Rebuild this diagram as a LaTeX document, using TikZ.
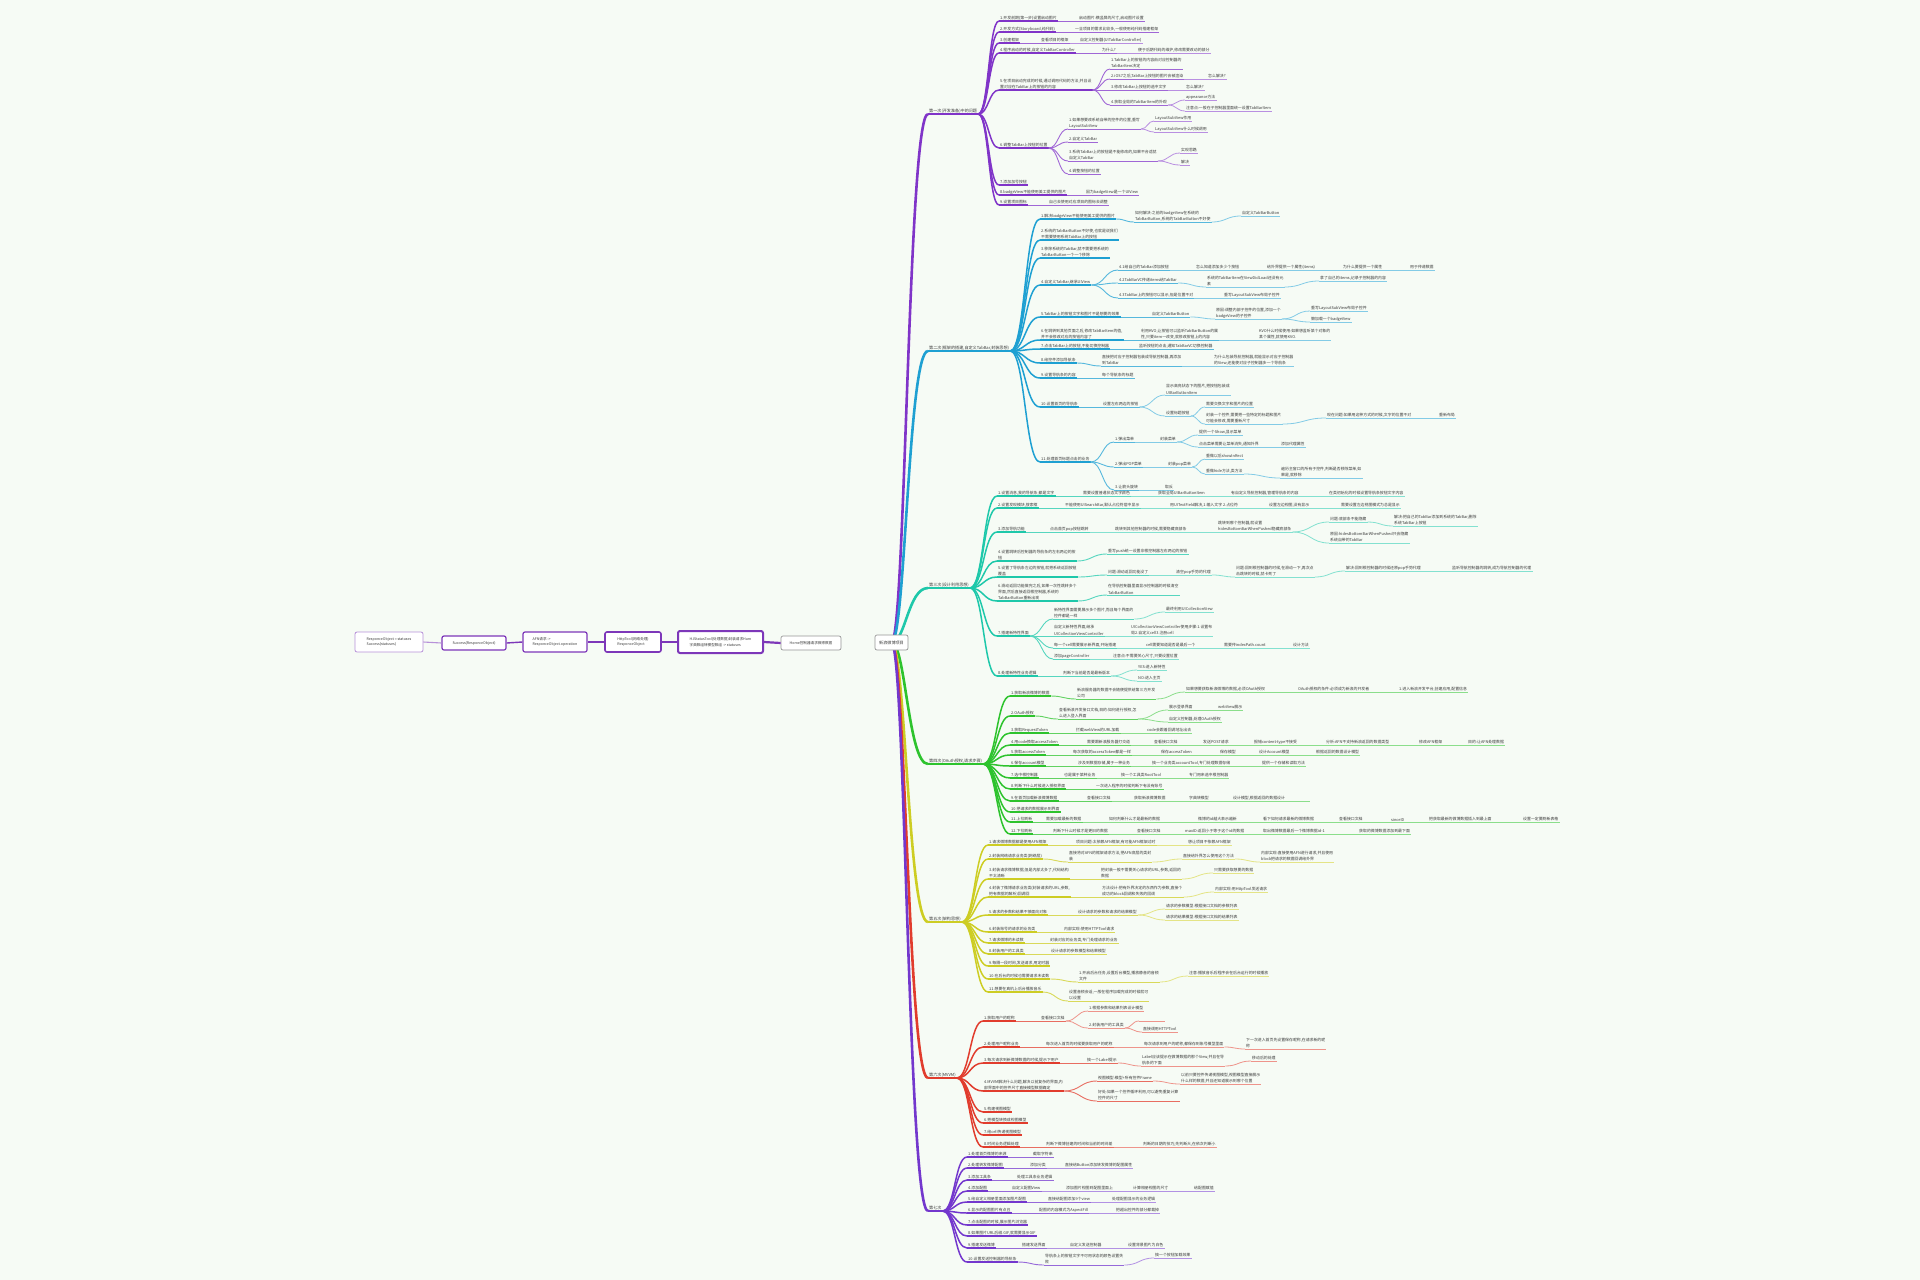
\documentclass[tikz,border=0pt]{standalone}
\usepackage{fontspec}
\setmainfont{Noto Sans CJK SC}
\usetikzlibrary{calc}
\definecolor{bg}{RGB}{246,251,245}
\definecolor{tc}{RGB}{60,60,60}
\definecolor{cA}{RGB}{128,52,200}
\definecolor{cB}{RGB}{30,160,210}
\definecolor{cC}{RGB}{30,200,170}
\definecolor{cD}{RGB}{45,195,45}
\definecolor{cE}{RGB}{205,205,35}
\definecolor{cF}{RGB}{225,60,45}
\definecolor{cG}{RGB}{115,55,205}
\definecolor{cP}{RGB}{125,55,185}
\definecolor{cGray}{RGB}{150,150,150}
\def\bc{cA}
\tikzset{
 tx/.style={font=\fontsize{3.9}{6.2}\selectfont, text=tc, inner xsep=1pt, inner ysep=0.6pt, align=left, anchor=south west},
 lone/.style={tx, font=\fontsize{4.1}{6.2}\selectfont},
 ulA/.style={draw=\bc, line width=2.2pt},
 cnA/.style={draw=\bc, line width=2.6pt},
 ulB/.style={draw=\bc, line width=1.4pt},
 cnB/.style={draw=\bc, line width=1.5pt},
 ulC/.style={draw=\bc!75, line width=0.9pt},
 cnC/.style={draw=\bc!75, line width=0.9pt},
 ulD/.style={draw=\bc!55, line width=0.8pt},
 cnD/.style={draw=\bc!55, line width=0.8pt},
 box/.style={draw=cP, rounded corners=2pt, fill=white, font=\fontsize{3.6}{5.4}\selectfont, text=tc, align=left, inner xsep=3pt, inner ysep=1.5pt},
 chl/.style={draw=cP, line width=1.8pt},
}
% level, name, parent, x, y, text
\newcommand\tpc[6]{%
 \node[tx] (#2) at (#4,#5) {#6};
 \draw[ul#1] (#2.south west) -- (#2.south east);
 \draw[cn#1] let \p1=(#3.south east),\p2=(#2.south west),\n1={0.5*(\x2-\x1)} in (\p1) .. controls +(\n1,0) and +(-\n1,0) .. (\p2);
}
% name, x, y, text
\newcommand\lonenode[4]{%
 \node[lone] (#1) at (#2,#3) {#4};
 \draw[ulA] (#1.south west) -- (#1.south east);
 \draw[cnA] (rc) .. controls +(14,0) and +(-20,0) .. (#1.south west);
}
\begin{document}
\begin{tikzpicture}[x=1pt,y=-1pt]
\fill[bg] (0,0) rectangle (1920,1280);
\path[use as bounding box] (0,0) rectangle (1920,1280);
\coordinate (rc) at (891.5,642.5);

% ---------- left chain ----------
\node[box, draw=cGray, line width=0.7pt, minimum width=60pt, minimum height=14pt] (B6) at (811,643) {Home控制器请求微博数据};
\node[box, line width=2pt, minimum width=85pt, minimum height=22pt] (B5) at (720.5,642) {HJStatusTool(处理数据)封装请求Hum\\字典数组转模型数组 -> statuses};
\node[box, line width=1.6pt, minimum width=56pt, minimum height=20pt] (B4) at (633,642) {HttpTool(网络处理)\\ResponceObject};
\node[box, line width=1.2pt, minimum width=64pt, minimum height=20pt] (B3) at (555,642) {AFN请求 ->\\ResponceObject.operation};
\node[box, line width=1.2pt, minimum width=64pt, minimum height=14pt] (B2) at (474,643) {Success(ResponceObject)};
\node[box, draw=cP!55, line width=0.8pt, minimum width=68pt, minimum height=20pt] (B1) at (389,642) {ResponceObject = statuses\\Success(statuses)};
\draw[chl, line width=2.2pt] (B6.west) -- (B5.east);
\draw[chl, line width=2pt] (B5.west) -- (B4.east);
\draw[chl, line width=1.7pt] (B4.west) -- (B3.east);
\draw[chl, line width=1.4pt] (B3.west) -- (B2.east);
\draw[chl, draw=cP!55, line width=1.1pt] (B2.west) -- (B1.east);

% ---------- Section 1 ----------
\def\bc{cA}
\lonenode{A}{928}{114}{第一次(开发准备)中的问题}
\tpc{B}{a1}{A}{999}{21}{1.开发前期(第一步)设置启动图片}
\tpc{C}{a1a}{a1}{1078}{21}{启动图片:横竖屏的尺寸,启动图片设置}
\tpc{B}{a2}{A}{999}{32}{2.开发方式(Storyboard,纯代码)}
\tpc{C}{a2a}{a2}{1074}{32}{一旦项目的需求比较多,一般使用纯代码搭建框架}
\tpc{B}{a3}{A}{999}{43}{3.创建框架}
\tpc{C}{a3a}{a3}{1040}{43}{查看项目的框架}
\tpc{D}{a3b}{a3a}{1079}{43}{自定义控制器(UITabBarController)}
\tpc{B}{a4}{A}{999}{53}{4.程序启动的时候,自定义TabBarController}
\tpc{C}{a4a}{a4}{1101}{53}{为什么?}
\tpc{D}{a4b}{a4a}{1137}{53}{便于后期代码的维护,修改需要改动的部分}
\tpc{B}{a5}{A}{999}{90}{5.在项目启动完成的时候,通过调用代码的方法,并且设\\置对应在TabBar上的按钮的内容}
\tpc{C}{a5a}{a5}{1110}{69}{1.TabBar上的按钮的内容由对应控制器的\\TabBarItem决定}
\tpc{C}{a5b}{a5}{1110}{79}{2.iOS7之后,TabBar上按钮的图片会被渲染}
\tpc{D}{a5b1}{a5b}{1207}{79}{怎么解决?}
\tpc{C}{a5c}{a5}{1110}{90}{3.修改TabBar上按钮的选中文字}
\tpc{D}{a5c1}{a5c}{1185}{90}{怎么解决?}
\tpc{C}{a5d}{a5}{1110}{105}{4.获取全局的TabBarItem的外观}
\tpc{D}{a5d1}{a5d}{1185}{100}{appearance方法}
\tpc{D}{a5d2}{a5d}{1185}{111}{注意点:一般在子控制器里面统一设置TabBarItem}
\tpc{B}{a6}{A}{999}{148}{6.调整TabBar上按钮的位置}
\tpc{C}{a6a}{a6}{1068}{129}{1.如果想要改系统自带的控件的位置,重写\\LayoutSubView}
\tpc{D}{a6a1}{a6a}{1154}{121}{LayoutSubView作用}
\tpc{D}{a6a2}{a6a}{1154}{132}{LayoutSubView什么时候调用}
\tpc{C}{a6b}{a6}{1068}{142}{2.自定义TabBar}
\tpc{C}{a6c}{a6}{1068}{161}{3.系统TabBar上的按钮是不能修改的,如果不合适就\\自定义TabBar}
\tpc{D}{a6c1}{a6c}{1180}{153}{实现思路}
\tpc{D}{a6c2}{a6c}{1180}{165}{解决}
\tpc{C}{a6d}{a6}{1068}{174}{4.调整按钮的位置}
\tpc{B}{a7}{A}{999}{185}{7.添加加号按钮}
\tpc{B}{a8}{A}{999}{195}{8.badgeView不能使用美工提供的图片}
\tpc{C}{a8a}{a8}{1085}{195}{因为badgeView是一个UIView}
\tpc{B}{a9}{A}{999}{205}{9.设置项目图标}
\tpc{C}{a9a}{a9}{1048}{205}{自己去使用对应项目的图标去调整}

% ---------- Section 2 ----------
\def\bc{cB}
\lonenode{B}{928}{351}{第二次(框架的搭建,自定义TabBar,封装思想)}
\tpc{B}{b1}{B}{1040}{219}{1.解决badgeView不能使用美工提供的图片}
\tpc{C}{b1a}{b1}{1134}{222}{如何解决:之前的badgeView在系统的\\TabBarButton,系统的TabBarButton不好使}
\tpc{D}{b1b}{b1a}{1241}{216}{自定义TabBarButton}
\tpc{B}{b2}{B}{1040}{240}{2.系统的TabBarButton不好使,也就是说我们\\不需要使用系统TabBar上的按钮}
\tpc{B}{b3}{B}{1040}{258}{3.移除系统的TabBar,就不需要把系统的\\TabBarButton一个一个移除}
\tpc{B}{b4}{B}{1040}{285}{4.自定义TabBar,继承UIView}
\tpc{C}{b4a}{b4}{1118}{270}{4.1给自己的TabBar添加按钮}
\tpc{D}{b4a1}{b4a}{1195}{270}{怎么知道添加多少个按钮}
\tpc{D}{b4a2}{b4a1}{1266}{270}{给外界提供一个属性(items)}
\tpc{D}{b4a3}{b4a2}{1342}{270}{为什么要提供一个属性}
\tpc{D}{b4a4}{b4a3}{1409}{270}{用于传递数据}
\tpc{C}{b4b}{b4}{1118}{283}{4.2TabBarVC传递items给TabBar}
\tpc{D}{b4b1}{b4b}{1206}{287}{系统的TabBarItem在ViewDidLoad还没有元\\素}
\tpc{D}{b4b2}{b4b1}{1319}{281}{拿了自己的items,记录子控制器的内容}
\tpc{C}{b4c}{b4}{1118}{298}{4.3TabBar上的按钮可以显示,但是位置不对}
\tpc{D}{b4c1}{b4c}{1223}{298}{重写LayoutSubView布局子控件}
\tpc{B}{b5}{B}{1040}{317}{5.TabBar上的按钮文字和图片不是想要的效果}
\tpc{C}{b5a}{b5}{1151}{317}{自定义TabBarButton}
\tpc{D}{b5b}{b5a}{1215}{319}{原因:调整内部子控件的位置,添加一个\\badgeView的子控件}
\tpc{D}{b5c}{b5b}{1310}{311}{重写LayoutSubView布局子控件}
\tpc{D}{b5d}{b5b}{1310}{322}{懒加载一个badgeView}
\tpc{B}{b6}{B}{1040}{340}{6.在跳转到其他页面之后,修改TabBarItem的值,\\并不会修改对应的按钮内容了}
\tpc{C}{b6a}{b6}{1140}{340}{利用KVO,让按钮可以监听TabBarButton的属\\性,只要item一改变,就修改按钮上的内容}
\tpc{D}{b6b}{b6a}{1258}{340}{KVO什么时候使用:如果想监听某个对象的\\某个属性,就使用KVO.}
\tpc{B}{b7}{B}{1040}{349}{7.点击TabBar上的按钮,不能切换控制器}
\tpc{C}{b7a}{b7}{1138}{349}{监听按钮的点击,通知TabBarVC切换控制器}
\tpc{B}{b8}{B}{1040}{363}{8.给控件添加导航条}
\tpc{C}{b8a}{b8}{1101}{366}{直接把对应子控制器包装成导航控制器,再添加\\到TabBar}
\tpc{D}{b8b}{b8a}{1213}{366}{为什么包装导航控制器,就能显示对应子控制器\\的View,还能使对应子控制器多一个导航条}
\tpc{B}{b9}{B}{1040}{378}{9.设置导航条的内容}
\tpc{C}{b9a}{b9}{1101}{378}{每个导航条的标题}
\tpc{B}{b10}{B}{1040}{407}{10.设置首页的导航条}
\tpc{C}{b10a}{b10}{1102}{407}{设置左右两边的按钮}
\tpc{D}{b10b}{b10a}{1165}{395}{显示高亮状态下的图片,把按钮包装成\\UIBarButtonItem}
\tpc{D}{b10c}{b10a}{1165}{416}{设置标题按钮}
\tpc{D}{b10d}{b10c}{1205}{407}{需要交换文字和图片的位置}
\tpc{D}{b10e}{b10c}{1205}{424}{封装一个控件,需要把一些特定的标题和图片\\可能会修改,需要重新尺寸}
\tpc{D}{b10f}{b10e}{1326}{418}{现在问题:如果用这种方式的时候,文字的位置不对}
\tpc{D}{b10g}{b10f}{1438}{418}{重新布局}
\tpc{B}{b11}{B}{1040}{462}{11.处理首页标题点击的业务}
\tpc{C}{b11a}{b11}{1114}{442}{1.弹出菜单}
\tpc{D}{b11a1}{b11a}{1159}{442}{封装菜单}
\tpc{D}{b11a2}{b11a1}{1198}{435}{提供一个Show,显示菜单}
\tpc{D}{b11a3}{b11a1}{1198}{447}{点击菜单需要让菜单消失,通知外界}
\tpc{D}{b11a4}{b11a3}{1280}{447}{添加代理属性}
\tpc{C}{b11b}{b11}{1114}{467}{2.弹出POP菜单}
\tpc{D}{b11b1}{b11b}{1167}{467}{封装pop菜单}
\tpc{D}{b11b2}{b11b1}{1205}{459}{重做以后showInRect}
\tpc{D}{b11b3}{b11b1}{1205}{474}{重做hide方法,类方法}
\tpc{D}{b11b4}{b11b3}{1280}{478}{遍历主窗口的所有子控件,判断是否移除菜单,如\\果是,就移除}
\tpc{C}{b11c}{b11}{1114}{490}{3.让箭头旋转}
\tpc{D}{b11c1}{b11c}{1164}{490}{取反}

% ---------- Section 3 ----------
\def\bc{cC}
\lonenode{C}{928}{588}{第三次(设计利用思想)}
\tpc{B}{c1}{C}{997}{496}{1.设置消息,我的导航条,都是文字}
\tpc{C}{c1a}{c1}{1082}{496}{需要设置普通状态文字颜色}
\tpc{D}{c1b}{c1a}{1157}{496}{获取全局UIBarButtonItem}
\tpc{D}{c1c}{c1b}{1230}{496}{有自定义导航控制器,管理导航条的内容}
\tpc{D}{c1d}{c1c}{1328}{496}{在类初始化的时候设置导航条按钮文字内容}
\tpc{B}{c2}{C}{997}{508}{2.设置发现模块,搜索框}
\tpc{C}{c2a}{c2}{1064}{508}{不能使用UISearchBar,默认占位符居中显示}
\tpc{D}{c2b}{c2a}{1169}{508}{用UITextField解决,1.输入文字 2.占位符}
\tpc{D}{c2c}{c2b}{1268}{508}{设置左边视图,没有显示}
\tpc{D}{c2d}{c2c}{1340}{508}{需要设置左边视图模式为总是显示}
\tpc{B}{c3}{C}{997}{532}{3.添加导航功能}
\tpc{C}{c3a}{c3}{1049}{532}{点击首页pop按钮跳转}
\tpc{D}{c3b}{c3a}{1114}{532}{跳转到其他控制器的时候,需要隐藏底部条}
\tpc{D}{c3c}{c3b}{1217}{532}{跳转到哪个控制器,就设置\\hidesBottomBarWhenPushed隐藏底部条}
\tpc{D}{c3d}{c3c}{1329}{522}{问题:底部条不能隐藏}
\tpc{D}{c3e}{c3d}{1393}{526}{解决:把自己的TabBar添加到系统的TabBar,删除\\系统TabBar上按钮}
\tpc{D}{c3f}{c3c}{1329}{543}{原因:hidesBottomBarWhenPushed只会隐藏\\系统自带的TabBar}
\tpc{B}{c4}{C}{997}{561}{4.设置跳转后控制器的导航条的左右两边的按\\钮}
\tpc{C}{c4a}{c4}{1107}{554}{重写push统一设置非根控制器左右两边的按钮}
\tpc{B}{c5}{C}{997}{577}{5.设置了导航条左边的按钮,就把系统返回按钮\\覆盖}
\tpc{C}{c5a}{c5}{1107}{575}{问题:滑动返回功能没了}
\tpc{D}{c5b}{c5a}{1175}{575}{清空pop手势的代理}
\tpc{D}{c5c}{c5b}{1235}{577}{问题:回到根控制器的时候,在滑动一下,再次点\\击跳转的时候,就卡死了}
\tpc{D}{c5d}{c5c}{1345}{571}{解决:回到根控制器的时候还原pop手势代理}
\tpc{D}{c5e}{c5d}{1451}{571}{监听导航控制器的跳转,成为导航控制器的代理}
\tpc{B}{c6}{C}{997}{601}{6.滑动返回功能做完之后,如果一次性跳转多个\\界面,然后直接返回根控制器,系统的\\TabBarButton重新出现}
\tpc{C}{c6a}{c6}{1107}{595}{在导航控制器里面显示控制器的时候清空\\TabBarButton}
\tpc{B}{c7}{C}{997}{636}{7.搭建新特性界面}
\tpc{C}{c7a}{c7}{1053}{619}{新特性界面需要展示多个图片,而且每个界面的\\控件都是一样}
\tpc{D}{c7a1}{c7a}{1165}{612}{最终利用UICollectionView}
\tpc{C}{c7b}{c7}{1053}{636}{自定义新特性界面,继承\\UICollectionViewController}
\tpc{D}{c7b1}{c7b}{1130}{636}{UICollectionViewController使用步骤:1.设置布\\局2.自定义cell3.注册cell}
\tpc{C}{c7c}{c7}{1053}{648}{每一个cell需要展示新界面,开始搭建}
\tpc{D}{c7c1}{c7c}{1145}{648}{cell需要知道是否是最后一个}
\tpc{D}{c7c2}{c7c1}{1223}{648}{需要传indexPath.count}
\tpc{D}{c7c3}{c7c2}{1292}{648}{设计方法}
\tpc{C}{c7d}{c7}{1053}{659}{添加pageController}
\tpc{D}{c7d1}{c7d}{1112}{659}{注意点:不需要关心尺寸,只要设置位置}
\tpc{B}{c8}{C}{997}{676}{8.处理新特性业务逻辑}
\tpc{C}{c8a}{c8}{1062}{676}{判断下当前是否是最新版本}
\tpc{D}{c8b}{c8a}{1137}{670}{YES:进入新特性}
\tpc{D}{c8c}{c8a}{1137}{681}{NO:进入主页}

% ---------- Section 4 ----------
\def\bc{cD}
\lonenode{D}{928}{764}{第四次(OAuth授权,请求步骤)}
\tpc{B}{d1}{D}{1010}{696}{1.获取新浪微博的数据}
\tpc{C}{d1a}{d1}{1076}{699}{新浪服务器的数据不会随便提供给第三方开发\\公司}
\tpc{D}{d1b}{d1a}{1185}{692}{如果想要获取新浪微博的数据,必须OAuth授权}
\tpc{D}{d1c}{d1b}{1297}{692}{OAuth授权的条件:必须成为新浪的开发者}
\tpc{D}{d1d}{d1c}{1398}{692}{1.进入新浪开发平台,创建应用,配置信息}
\tpc{B}{d2}{D}{1010}{716}{2.OAuth授权}
\tpc{C}{d2a}{d2}{1058}{719}{查看新浪开发接口文档,目的:如何进行授权,怎\\么进入登入界面}
\tpc{D}{d2b}{d2a}{1168}{710}{展示登录界面}
\tpc{D}{d2c}{d2b}{1217}{710}{webView展示}
\tpc{D}{d2d}{d2a}{1168}{722}{自定义控制器,处理OAuth授权}
\tpc{B}{d3}{D}{1010}{733}{3.获取RequestToken}
\tpc{C}{d3a}{d3}{1075}{733}{拦截webView的URL加载}
\tpc{D}{d3b}{d3a}{1146}{733}{code会跟着回调地址出去}
\tpc{B}{d4}{D}{1010}{745}{4.用code换取accessToken}
\tpc{C}{d4a}{d4}{1086}{745}{需要跟新浪服务器打交道}
\tpc{D}{d4b}{d4a}{1153}{745}{查看接口文档}
\tpc{D}{d4c}{d4b}{1202}{745}{发送POST请求}
\tpc{D}{d4d}{d4c}{1253}{745}{报错content-type不接受}
\tpc{D}{d4e}{d4d}{1325}{745}{分析:AFN不支持新浪返回的数据类型}
\tpc{D}{d4f}{d4e}{1418}{745}{修改AFN框架}
\tpc{D}{d4g}{d4f}{1467}{745}{目的:让AFN处理数据}
\tpc{B}{d5}{D}{1010}{755}{5.获取accessToken}
\tpc{C}{d5a}{d5}{1072}{755}{每次获取的accessToken都是一样}
\tpc{D}{d5b}{d5a}{1160}{755}{保存accessToken}
\tpc{D}{d5c}{d5b}{1219}{755}{保存模型}
\tpc{D}{d5d}{d5c}{1258}{755}{设计Account模型}
\tpc{D}{d5e}{d5d}{1315}{755}{根据返回的数据设计模型}
\tpc{B}{d6}{D}{1010}{766}{6.保存account模型}
\tpc{C}{d6a}{d6}{1077}{766}{涉及到数据存储,属于一种业务}
\tpc{D}{d6b}{d6a}{1151}{766}{搞一个业务类accountTool,专门处理数据存储}
\tpc{D}{d6c}{d6b}{1261}{766}{提供一个存储和读取方法}
\tpc{B}{d7}{D}{1010}{778}{7.选中根控制器}
\tpc{C}{d7a}{d7}{1063}{778}{也是属于某种业务}
\tpc{D}{d7b}{d7a}{1120}{778}{搞一个工具类RootTool}
\tpc{D}{d7c}{d7b}{1188}{778}{专门用来选中根控制器}
\tpc{B}{d8}{D}{1010}{789}{8.判断下什么时候进入授权界面}
\tpc{C}{d8a}{d8}{1095}{789}{一次进入程序的时候判断下有没有账号}
\tpc{B}{d9}{D}{1010}{801}{9.在首页加载新浪微博数据}
\tpc{C}{d9a}{d9}{1086}{801}{查看接口文档}
\tpc{D}{d9b}{d9a}{1133}{801}{获取新浪微博数据}
\tpc{D}{d9c}{d9b}{1188}{801}{字典转模型}
\tpc{D}{d9d}{d9c}{1232}{801}{设计模型,根据返回的数据设计\hspace{24pt}}
\tpc{B}{d10}{D}{1010}{812}{10.把请求的数据展示到界面}
\tpc{B}{d11}{D}{1010}{822}{11.上拉刷新}
\tpc{C}{d11a}{d11}{1045}{822}{需要加载最新的数据}
\tpc{D}{d11b}{d11a}{1108}{822}{如何判断什么才是最新的数据}
\tpc{D}{d11c}{d11b}{1197}{822}{微博的id越大表示越新}
\tpc{D}{d11d}{d11c}{1262}{822}{看下如何请求最新的微博数据}
\tpc{D}{d11e}{d11d}{1338}{822}{查看接口文档}
\tpc{D}{d11f}{d11e}{1390}{822}{sinceID}
\tpc{D}{d11g}{d11f}{1428}{822}{把获取最新的微博数据插入到最上面}
\tpc{D}{d11h}{d11g}{1522}{822}{设置一定要刷新表格}
\tpc{B}{d12}{D}{1010}{834}{12.下拉刷新}
\tpc{C}{d12a}{d12}{1052}{834}{判断下什么时候才是更旧的数据}
\tpc{D}{d12b}{d12a}{1136}{834}{查看接口文档}
\tpc{D}{d12c}{d12b}{1184}{834}{maxID:返回小于等于这个id的数据}
\tpc{D}{d12d}{d12c}{1262}{834}{取出微博数据最后一个微博数据id-1}
\tpc{D}{d12e}{d12d}{1358}{834}{获取的微博数据添加到最下面}

% ---------- Section 5 ----------
\def\bc{cE}
\lonenode{E}{928}{922}{第五次(架构思想)}
\tpc{B}{e1}{E}{988}{845}{1.请求微博数据都是使用AFN框架}
\tpc{C}{e1a}{e1}{1075}{845}{项目问题:太依赖AFN框架,有可能AFN框架过时}
\tpc{D}{e1b}{e1a}{1187}{845}{想让项目不依赖AFN框架}
\tpc{B}{e2}{E}{988}{859}{2.封装网络请求业务类(网络层)}
\tpc{C}{e2a}{e2}{1068}{862}{直接将对AFN的框架请求方法,把AFN底层的类封\\装}
\tpc{D}{e2b}{e2a}{1182}{859}{直接给外界怎么使用这个方法}
\tpc{D}{e2c}{e2b}{1260}{862}{内部实现:直接使用AFN进行请求,并且使用\\block把请求的数据回调给外界}
\tpc{B}{e3}{E}{988}{879}{3.封装请求微博数据,但是内部太多了,代码结构\\不太清晰}
\tpc{C}{e3a}{e3}{1100}{879}{把封装一般不需要关心请求的URL,参数,返回的\\数据}
\tpc{D}{e3b}{e3a}{1213}{873}{只需要获取想要的数据}
\tpc{B}{e4}{E}{988}{897}{4.封装了微博请求业务类(封装请求的URL,参数,\\把有数据的解析)回调回}
\tpc{C}{e4a}{e4}{1101}{897}{方法设计:把有外界决定的东西作为参数,直接个\\成功的block回调和失败的回调}
\tpc{D}{e4b}{e4a}{1214}{892}{内部实现:用HttpTool发送请求}
\tpc{B}{e5}{E}{988}{915}{5.请求的参数和结果不够面向对象}
\tpc{C}{e5a}{e5}{1077}{915}{设计请求的参数和请求的结果模型}
\tpc{D}{e5b}{e5a}{1165}{909}{请求的参数模型:根据接口文档的参数列表}
\tpc{D}{e5c}{e5a}{1165}{920}{请求的结果模型:根据接口文档的结果列表}
\tpc{B}{e6}{E}{988}{932}{6.封装账号的请求的业务类}
\tpc{C}{e6a}{e6}{1063}{932}{内部实现:使用HTTPTool请求}
\tpc{B}{e7}{E}{988}{943}{7.请求微博的未读数}
\tpc{C}{e7a}{e7}{1049}{943}{封装对应的业务类,专门处理请求的业务}
\tpc{B}{e8}{E}{988}{954}{8.封装用户的工具类}
\tpc{C}{e8a}{e8}{1050}{954}{设计请求的参数模型和结果模型}
\tpc{B}{e9}{E}{988}{966}{9.每隔一段时间,发送请求,用定时器}
\tpc{B}{e10}{E}{988}{979}{10.在后台的时候也需要请求未读数}
\tpc{C}{e10a}{e10}{1078}{982}{1.开启后台任务,设置后台模型,播放静音的音频\\文件}
\tpc{D}{e10b}{e10a}{1188}{976}{注意:播放音乐后程序会在后台运行的时候播放}
\tpc{B}{e11}{E}{988}{992}{11.想要在真机上后台播放音乐}
\tpc{C}{e11a}{e11}{1068}{1001}{设置音频会话,一般在程序加载完成的时候就可\\以设置}

% ---------- Section 6 ----------
\def\bc{cF}
\lonenode{F}{928}{1078}{第六次(MVVM)}
\tpc{B}{f1}{F}{983}{1021}{1.获取用户的昵称}
\tpc{C}{f1a}{f1}{1040}{1021}{查看接口文档}
\tpc{D}{f1b}{f1a}{1088}{1011}{1.根据参数和结果列表设计模型}
\tpc{D}{f1c}{f1a}{1088}{1028}{2.封装用户的工具类}
\tpc{D}{f1d}{f1c}{1139}{1021}{\hspace{24pt}}
\tpc{D}{f1e}{f1c}{1142}{1032}{直接调用HTTPTool}
\tpc{B}{f2}{F}{983}{1047}{2.处理用户昵称业务}
\tpc{C}{f2a}{f2}{1045}{1047}{每次进入首页的时候要获取用户的昵称}
\tpc{D}{f2b}{f2a}{1143}{1047}{每次请求到用户的昵称,都保存到账号模型里面}
\tpc{D}{f2c}{f2b}{1245}{1049}{下一次进入首页先设置保存昵称,在请求新的昵\\称}
\tpc{B}{f3}{F}{983}{1063}{3.每次请求到新微博数据的时候,提示下用户}
\tpc{C}{f3a}{f3}{1086}{1063}{搞一个Label提示}
\tpc{D}{f3b}{f3a}{1141}{1066}{Label应该提示在微博数据的那个View,并且在导\\航条的下面}
\tpc{D}{f3c}{f3b}{1251}{1061}{移动后的处理}
\tpc{B}{f4}{F}{983}{1091}{4.MVVM解决什么问题,解决以前复杂的界面,内\\部界面中的控件尺寸直接模型数据确定}
\tpc{C}{f4a}{f4}{1097}{1081}{视图模型:模型+所有控件Frame}
\tpc{D}{f4b}{f4a}{1180}{1084}{以前只要控件传递视图模型,视图模型直接展示\\什么样的数据,并且还知道展示到哪个位置}
\tpc{C}{f4c}{f4}{1097}{1101}{好处:如果一个控件循环利用,可以避免重复计算\\控件的尺寸}
\tpc{B}{f5}{F}{983}{1112}{5.构建视图模型}
\tpc{B}{f6}{F}{983}{1123}{6.把模型转换成视图模型}
\tpc{B}{f7}{F}{983}{1135}{7.给cell传递视图模型}
\tpc{B}{f8}{F}{983}{1147}{8.时间业务逻辑处理}
\tpc{C}{f8a}{f8}{1045}{1147}{判断下微博创建的时间和当前的时间差}
\tpc{D}{f8b}{f8a}{1142}{1147}{判断的日期的技巧,先判断大,在依次判断小}

% ---------- Section 7 ----------
\def\bc{cG}
\lonenode{G}{928}{1211}{第七次}
\tpc{B}{g1}{G}{967}{1157}{1.处理首页微博的来源}
\tpc{C}{g1a}{g1}{1032}{1157}{截取字符串}
\tpc{B}{g2}{G}{967}{1168}{2.处理转发微博配图}
\tpc{C}{g2a}{g2}{1029}{1168}{添加分类}
\tpc{D}{g2b}{g2a}{1064}{1168}{直接给Button添加转发微博的配图属性}
\tpc{B}{g3}{G}{967}{1180}{3.添加工具条}
\tpc{C}{g3a}{g3}{1016}{1180}{处理工具条业务逻辑}
\tpc{B}{g4}{G}{967}{1191}{4.添加配图}
\tpc{C}{g4a}{g4}{1011}{1191}{自定义配图View}
\tpc{D}{g4b}{g4a}{1065}{1191}{添加图片视图到配图里面上}
\tpc{D}{g4c}{g4b}{1132}{1191}{计算相册视图的尺寸}
\tpc{D}{g4d}{g4c}{1193}{1191}{给配图赋值}
\tpc{B}{g5}{G}{967}{1202}{5.给自定义相册里面添加图片配图}
\tpc{C}{g5a}{g5}{1047}{1202}{直接给配图添加9个view}
\tpc{D}{g5b}{g5a}{1111}{1202}{处理配图显示的业务逻辑}
\tpc{B}{g6}{G}{967}{1213}{6.显示的配图图片有点丑}
\tpc{C}{g6a}{g6}{1038}{1213}{配图的内容模式为AspectFill}
\tpc{D}{g6b}{g6a}{1115}{1213}{把超出控件的部分都裁掉}
\tpc{B}{g7}{G}{967}{1225}{7.点击配图的时候,展示图片浏览器}
\tpc{B}{g8}{G}{967}{1236}{8.如果图片URL后缀.GIF,就需要显示GIF}
\tpc{B}{g9}{G}{967}{1248}{9.搭建发送微博}
\tpc{C}{g9a}{g9}{1021}{1248}{搭建发送界面}
\tpc{D}{g9b}{g9a}{1069}{1248}{自定义发送控制器}
\tpc{D}{g9c}{g9b}{1127}{1248}{设置背景图片为白色}
\tpc{B}{g10}{G}{967}{1262}{10.设置发送控制器的导航条}
\tpc{C}{g10a}{g10}{1044}{1265}{导航条上的按钮文字不可用状态的颜色设置失\\败}
\tpc{D}{g10b}{g10a}{1154}{1258}{搞一个按钮加载效果}

% ---------- root (drawn last, over the trunk lines) ----------
\node[box, draw=cGray, line width=0.7pt, minimum width=33pt, minimum height=15pt, font=\fontsize{4.1}{5.4}\selectfont] (root) at (rc) {新浪微博项目};
\end{tikzpicture}
\end{document}
